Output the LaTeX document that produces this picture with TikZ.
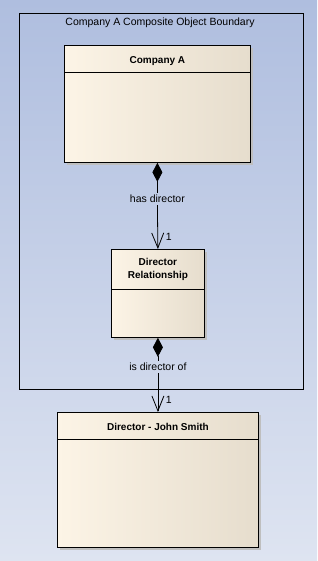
\documentclass[tikz,border=0pt]{standalone}
\usepackage{fontspec}
\setmainfont{Liberation Sans}
\usetikzlibrary{arrows.meta,shadows}
\definecolor{diagramTop}{HTML}{AFBEDF}
\definecolor{diagramBottom}{HTML}{DEE4F1}
\definecolor{classLeft}{HTML}{FCF4E6}
\definecolor{classRight}{HTML}{E6DDCD}

\tikzset{
  classbox/.style={draw, line width=0.8pt, left color=classLeft, right color=classRight,
    anchor=north west, inner sep=0pt,
    drop shadow={shadow xshift=3pt, shadow yshift=-3pt, fill=black!25, opacity=1}},
  classname/.style={font=\fontsize{10}{13}\selectfont\bfseries, align=center, inner sep=0pt},
  rolelabel/.style={font=\fontsize{10.5}{12}\selectfont, inner sep=2pt},
  multiplicity/.style={font=\fontsize{10.5}{12}\selectfont, inner sep=0pt},
  connector/.style={line width=0.8pt},
}

\begin{document}
\begin{tikzpicture}[x=1pt,y=-1pt]
  \shade[top color=diagramTop, bottom color=diagramBottom] (0,0) rectangle (317,561);
  \useasboundingbox (0,0) rectangle (317,561);

  % composite boundary
  \draw[line width=0.8pt] (19,13) rectangle (303,389);
  \node[rolelabel] (boundary) at (160,23) {Company A Composite Object Boundary};

  % classes
  \node[classbox, minimum width=186pt, minimum height=117pt] (companyA) at (64,45) {};
  \draw ([yshift=-27pt]companyA.north west) -- ([yshift=-27pt]companyA.north east);
  \node[classname] (companyAName) at ([yshift=-16pt]companyA.north) {Company A};

  \node[classbox, minimum width=93pt, minimum height=88pt] (dirRel) at (111,249) {};
  \draw ([yshift=-40pt]dirRel.north west) -- ([yshift=-40pt]dirRel.north east);
  \node[classname] (dirRelName) at ([yshift=-20pt]dirRel.north) {Director\\Relationship};

  \node[classbox, minimum width=201pt, minimum height=135pt] (director) at (57,412) {};
  \draw ([yshift=-27pt]director.north west) -- ([yshift=-27pt]director.north east);
  \node[classname] (directorName) at ([yshift=-15pt]director.north) {Director - John Smith};

  % compositions
  \node[rolelabel] (hasDirector) at (companyA.south |- 0,199) {has director};
  \draw[connector, {Diamond[length=19pt,width=10pt]}-] (companyA.south) -- (hasDirector.north);
  \draw[connector, -{Straight Barb[length=15pt,width=12pt]}] (hasDirector.south) -- (dirRel.north);
  \node[multiplicity] (dirRelMult) at ([xshift=11pt,yshift=12pt]dirRel.north) {1};

  \node[rolelabel] (isDirectorOf) at (dirRel.south |- 0,367) {is director of};
  \draw[connector, {Diamond[length=19pt,width=10pt]}-] (dirRel.south) -- (isDirectorOf.north);
  \draw[connector, -{Straight Barb[length=15pt,width=12pt]}] (isDirectorOf.south) -- (director.north);
  \node[multiplicity] (directorMult) at ([xshift=11pt,yshift=12pt]director.north) {1};
\end{tikzpicture}
\end{document}
